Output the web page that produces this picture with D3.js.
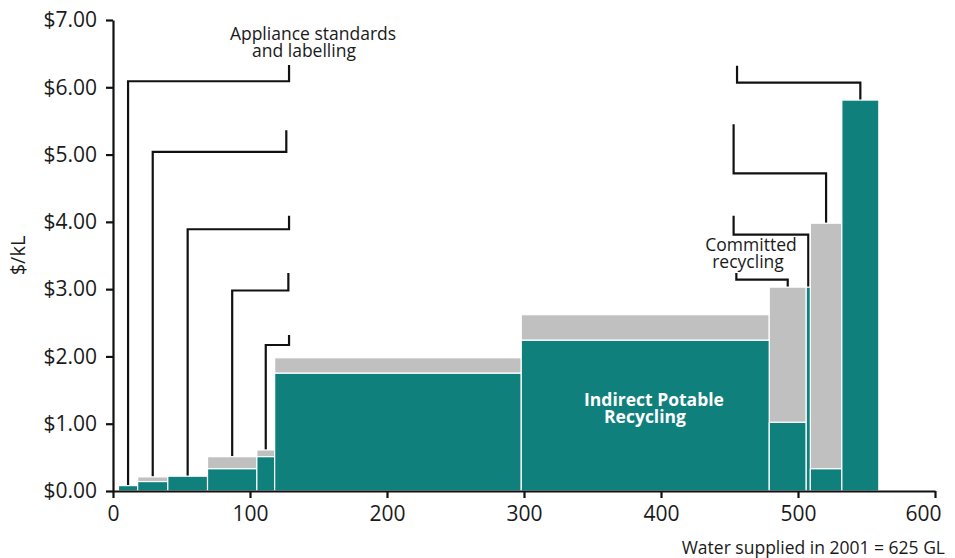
<!DOCTYPE html>
<html>
<head>
<meta charset="utf-8">
<script src="https://cdn.jsdelivr.net/npm/d3@7"></script>
<style>
  body { margin: 0; background: #fff; }
  text { font-family: "Open Sans", "Noto Sans", sans-serif; fill: #1a1a1a; }
</style>
</head>
<body>
<div id="chart"></div>
<script>
// bar edges along the x axis (GL of water supplied)
var edges = [4, 18, 40, 69, 105, 118, 298, 479, 506, 509, 532, 559];
// cost of the teal part and total cost (teal + grey) in $/kL
var tealCost = [0.08, 0.14, 0.22, 0.33, 0.51, 1.75, 2.24, 1.02, 3.03, 0.33, 5.81];
var totalCost = [0.08, 0.21, 0.22, 0.51, 0.61, 1.98, 2.62, 3.03, 3.03, 3.98, 5.81];

var yTicks = [0, 1, 2, 3, 4, 5, 6, 7];
var xTicks = [0, 100, 200, 300, 400, 500, 600];

// leader lines: bar they point at, elbow height, stub end, stub top
var leftLeaders = [
    {bar: 0, elbow: 6.09, stubX: 128.5, stubTop: 6.33},
    {bar: 1, elbow: 5.04, stubX: 126.5, stubTop: 5.36},
    {bar: 2, elbow: 3.89, stubX: 128.5, stubTop: 4.09},
    {bar: 3, elbow: 2.98, stubX: 128, stubTop: 3.24},
    {bar: 4, elbow: 2.17, stubX: 128.5, stubTop: 2.32}
];
var rightLeaders = [
    {bar: 10, elbow: 6.07, stubX: 455.5, stubTop: 6.32},
    {bar: 9, elbow: 4.72, stubX: 453, stubTop: 5.45},
    {bar: 8, elbow: 3.81, stubX: 453, stubTop: 4.09},
    {bar: 7, elbow: 3.14, stubX: 455, stubTop: 3.24}
];

var width = 955, height = 558;
var margin = {left: 113, right: 20, top: 20, bottom: 67};

var x = d3.scaleLinear().domain([0, 600]).range([margin.left, width - margin.right]);
var y = d3.scaleLinear().domain([0, 7]).range([height - margin.bottom, margin.top]);

var svg = d3.select("#chart")
    .append("svg")
    .attr("width", width)
    .attr("height", height);

var bars = d3.range(tealCost.length).map(function(i) {
    return {x0: edges[i], x1: edges[i + 1], teal: tealCost[i], total: totalCost[i]};
});

//Leader lines
var leaderPath = function(d) {
    var b = bars[d.bar];
    return "M" + x((b.x0 + b.x1) / 2) + "," + y(b.total) +
        "V" + y(d.elbow) + "H" + x(d.stubX) + "V" + y(d.stubTop);
};
svg.selectAll("path.leader")
    .data(leftLeaders.concat(rightLeaders))
    .enter()
    .append("path")
    .attr("class", "leader")
    .attr("d", leaderPath)
    .attr("fill", "none")
    .attr("stroke", "#111")
    .attr("stroke-width", 2.2);

//Grey part
svg.selectAll("rect.grey")
    .data(bars.filter(function(d) { return d.total > d.teal; }))
    .enter()
    .append("rect")
    .attr("class", "grey")
    .attr("x", function(d) { return x(d.x0); })
    .attr("width", function(d) { return x(d.x1) - x(d.x0); })
    .attr("y", function(d) { return y(d.total); })
    .attr("height", function(d) { return y(d.teal) - y(d.total); })
    .attr("fill", "#c0c0c0")
    .attr("stroke", "#fff")
    .attr("stroke-width", 1.2);

//Teal part
svg.selectAll("rect.teal")
    .data(bars)
    .enter()
    .append("rect")
    .attr("class", "teal")
    .attr("x", function(d) { return x(d.x0); })
    .attr("width", function(d) { return x(d.x1) - x(d.x0); })
    .attr("y", function(d) { return y(d.teal); })
    .attr("height", function(d) { return y(0) - y(d.teal); })
    .attr("fill", "#10807d")
    .attr("stroke", "#fff")
    .attr("stroke-width", 1.2);

//Axes
var yAxis = svg.append("g")
    .attr("transform", "translate(" + margin.left + ",0)")
    .call(d3.axisLeft(y)
        .tickValues(yTicks)
        .tickSizeInner(7)
        .tickSizeOuter(0)
        .tickPadding(9)
        .tickFormat(function(d) { return "$" + d.toFixed(2); }));

var xAxis = svg.append("g")
    .attr("transform", "translate(0," + y(0) + ")")
    .call(d3.axisBottom(x)
        .tickValues(xTicks)
        .tickSizeInner(7)
        .tickSizeOuter(0)
        .tickPadding(8));

[yAxis, xAxis].forEach(function(g) {
    g.selectAll("path, line").attr("stroke", "#111").attr("stroke-width", 2.2);
    g.selectAll("text").style("font-size", "21px").attr("fill", "#1a1a1a");
});
// last x label sits a little inside the edge
xAxis.selectAll(".tick text")
    .filter(function(d) { return d === 600; })
    .attr("dx", -12);

svg.append("text")
    .attr("transform", "translate(25," + y(3.5) + ") rotate(-90)")
    .attr("text-anchor", "middle")
    .style("font-size", "20px")
    .text("$/kL");

svg.append("text")
    .attr("x", 945)
    .attr("y", 554)
    .attr("text-anchor", "end")
    .style("font-size", "17.5px")
    .text("Water supplied in 2001 = 625 GL");

//Annotations
var note = function(lines, cx, cy, size, weight, colour) {
    var t = svg.append("text")
        .attr("text-anchor", "middle")
        .style("font-size", size + "px")
        .style("font-weight", weight)
        .style("fill", colour);
    lines.forEach(function(s, i) {
        t.append("tspan")
            .attr("x", cx[i])
            .attr("y", cy + i * size * 0.98)
            .text(s);
    });
};
note(["Appliance standards", "and labelling"], [313, 304], 40, 17.5, 400, "#1a1a1a");
note(["Committed", "recycling"], [751, 748], 251, 17.5, 400, "#1a1a1a");
note(["Indirect Potable", "Recycling"], [654, 645], 406, 17.5, 700, "#fff");
</script>
</body>
</html>
